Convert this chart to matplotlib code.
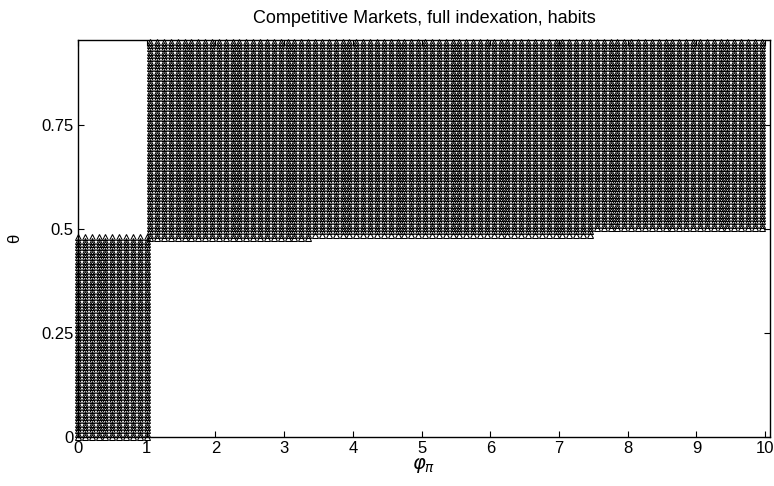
import numpy as np
import matplotlib.pyplot as plt

plt.rcParams['font.family'] = ['Liberation Sans', 'DejaVu Sans']

# determinacy grid (phi_pi, theta)
phi_step = 0.1
theta_step = 0.008
theta_top = 0.95

# region 1: low phi_pi, low theta
r1_phi = [0.0, 1.0]
r1_theta = [0.0, 0.485]

# region 2: phi_pi > 1, lower theta bound varies slightly with phi_pi
r2_phi_start = [1.05, 3.45, 7.55]
r2_phi_end = [3.45, 7.55, 9.96]
r2_theta_low = [0.475, 0.485, 0.495]

xs = []
ys = []
for p in np.arange(r1_phi[0], r1_phi[1] + 1e-9, phi_step):
    for t in np.arange(r1_theta[0], r1_theta[1] + 1e-9, theta_step):
        xs.append(p)
        ys.append(t)

for p0, p1, tlo in zip(r2_phi_start, r2_phi_end, r2_theta_low):
    for p in np.arange(p0, p1 - 1e-9, phi_step):
        t = theta_top
        while t >= tlo - 1e-9:
            xs.append(p)
            ys.append(t)
            t -= theta_step

fig = plt.figure(figsize=(7.74, 4.86), dpi=100)
ax = fig.add_axes([78/774, 49/486, 692/774, 397/486])

ax.plot(xs, ys, linestyle='none', marker='^', markersize=5,
        markerfacecolor='none', markeredgecolor='black', markeredgewidth=0.75,
        clip_on=False)

ax.set_xlim(0, 10.07)
ax.set_ylim(0, 0.954)
ax.set_xticks(range(0, 11))
ax.set_yticks([0, 0.25, 0.5, 0.75])
ax.set_yticklabels(['0', '0.25', '0.5', '0.75'])
ax.tick_params(direction='in', top=True, right=True, labelsize=12, length=4, width=0.8, pad=3)
for s in ax.spines.values():
    s.set_linewidth(1.0)

ax.set_title('Competitive Markets, full indexation, habits', fontsize=13, pad=12)
ax.set_xlabel(r'$\boldsymbol{\varphi_{\pi}}$', fontsize=14, labelpad=0)
ax.set_ylabel('θ', fontsize=12, labelpad=14)

fig.savefig('out.png', dpi=100)
